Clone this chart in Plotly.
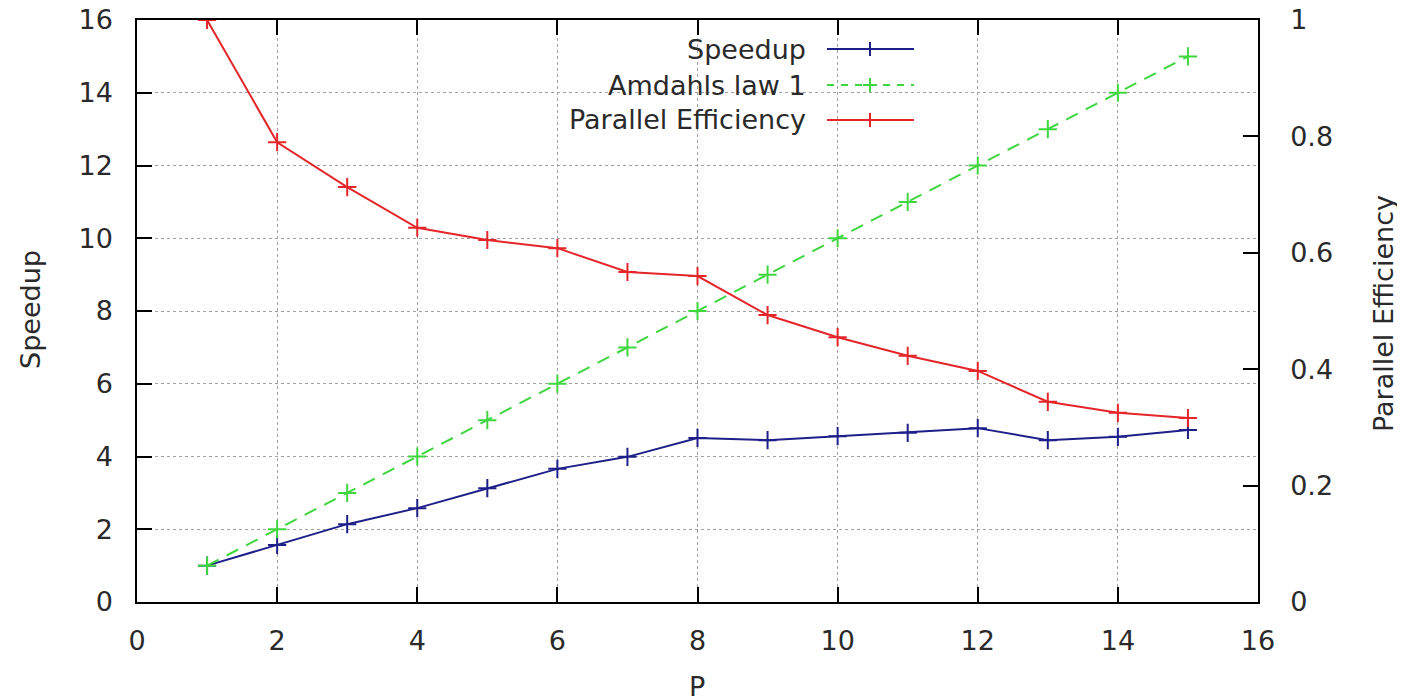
import plotly.graph_objects as go

# ---- data ----
P = [1, 2, 3, 4, 5, 6, 7, 8, 9, 10, 11, 12, 13, 14, 15]
speedup = [1.0, 1.57, 2.14, 2.58, 3.13, 3.66, 3.99, 4.51, 4.45, 4.56, 4.65, 4.78, 4.45, 4.54, 4.73]
amdahl = [1, 2, 3, 4, 5, 6, 7, 8, 9, 10, 11, 12, 13, 14, 15]
efficiency = [1.0, 0.79, 0.713, 0.643, 0.622, 0.608, 0.567, 0.56, 0.493, 0.455, 0.423, 0.397, 0.344, 0.325, 0.316]

series_names = ["Speedup", "Amdahls law 1", "Parallel Efficiency"]
x_ticks = [0, 2, 4, 6, 8, 10, 12, 14, 16]
y_ticks = [0, 2, 4, 6, 8, 10, 12, 14, 16]
y2_ticks = [0, 0.2, 0.4, 0.6, 0.8, 1]

BLUE = "#1f1f8a"
GREEN = "#3fd63f"
RED = "#e4262a"
FONT = "DejaVu Sans"
TXT = "#2a2a2a"
FS = 27

marker_style = dict(symbol="cross-thin", size=13)

fig = go.Figure()
fig.add_trace(go.Scatter(
    x=P, y=speedup, name=series_names[0], mode="lines+markers",
    line=dict(color=BLUE, width=2),
    marker=dict(**marker_style, line=dict(color=BLUE, width=2)),
    showlegend=False))
fig.add_trace(go.Scatter(
    x=P, y=amdahl, name=series_names[1], mode="lines+markers",
    line=dict(color=GREEN, width=2, dash="13px,9px"),
    marker=dict(**marker_style, line=dict(color=GREEN, width=2)),
    showlegend=False))
fig.add_trace(go.Scatter(
    x=P, y=efficiency, name=series_names[2], mode="lines+markers", yaxis="y2",
    line=dict(color=RED, width=2),
    marker=dict(**marker_style, line=dict(color=RED, width=2)),
    showlegend=False))

# ---- custom gnuplot-style key (text right, sample on the right) ----
# page pixel coordinates; plot area spans x 137..1258, y 20..602 on the page
W, H = 1121.0, 582.0
def px_x(px):
    return (px - 137) / W
def px_y(py):
    return (602 - py) / H

shapes = [dict(type="rect", xref="paper", yref="paper",
               x0=px_x(458), x1=px_x(922), y0=px_y(139), y1=px_y(21),
               fillcolor="white", line=dict(width=0), layer="between")]
annotations = []
rows = [49, 85, 120]
colors = [BLUE, GREEN, RED]
dashes = ["solid", "7px,7px", "solid"]
for name, row, col, dsh in zip(series_names, rows, colors, dashes):
    annotations.append(dict(text=name, xref="paper", yref="paper",
                            x=px_x(808), y=px_y(row), xanchor="right", yanchor="middle",
                            showarrow=False, font=dict(family=FONT, size=FS, color=TXT)))
    shapes.append(dict(type="line", xref="paper", yref="paper",
                       x0=px_x(827), x1=px_x(914), y0=px_y(row), y1=px_y(row),
                       line=dict(color=col, width=2, dash=dsh), layer="above"))
    shapes.append(dict(type="line", xref="paper", yref="paper",
                       x0=px_x(870), x1=px_x(870), y0=px_y(row - 7), y1=px_y(row + 7),
                       line=dict(color=col, width=2), layer="above"))
    shapes.append(dict(type="line", xref="paper", yref="paper",
                       x0=px_x(863), x1=px_x(877), y0=px_y(row), y1=px_y(row),
                       line=dict(color=col, width=2), layer="above"))

# axis titles
annotations.append(dict(text="Speedup", xref="paper", yref="paper", x=px_x(30), y=px_y(310),
                        textangle=-90, showarrow=False, xanchor="center", yanchor="middle",
                        font=dict(family=FONT, size=FS, color=TXT)))
annotations.append(dict(text="Parallel Efficiency", xref="paper", yref="paper", x=px_x(1383), y=px_y(314),
                        textangle=-90, showarrow=False, xanchor="center", yanchor="middle",
                        font=dict(family=FONT, size=FS, color=TXT)))
annotations.append(dict(text="P", xref="paper", yref="paper", x=px_x(697), y=px_y(686),
                        showarrow=False, xanchor="center", yanchor="middle",
                        font=dict(family=FONT, size=FS, color=TXT)))

axis_common = dict(ticks="inside", ticklen=15, tickwidth=1.5, tickcolor="black",
                   showline=True, linecolor="black", linewidth=1.5,
                   tickfont=dict(family=FONT, size=FS, color=TXT), zeroline=False,
                   ticklabeloverflow="allow", automargin=False)

# the page has an 8px body margin: figure is offset by 8px, so it is 8px smaller
fig.update_layout(
    width=1397, height=692,
    margin=dict(l=129, r=147, t=12, b=98, autoexpand=False),
    paper_bgcolor="white", plot_bgcolor="white",
    shapes=shapes, annotations=annotations, showlegend=False,
    xaxis=dict(range=[0, 16], tickvals=x_ticks, mirror="ticks",
               showgrid=True, gridcolor="#a0a0a0", griddash="dot", gridwidth=1,
               ticklabelstandoff=14, **axis_common),
    yaxis=dict(range=[0, 16], tickvals=y_ticks, mirror=True,
               showgrid=True, gridcolor="#a0a0a0", griddash="dot", gridwidth=1,
               ticklabelstandoff=17, **axis_common),
    yaxis2=dict(range=[0, 1], tickvals=y2_ticks, overlaying="y", side="right",
                showgrid=False, ticklabelstandoff=25, **axis_common),
)

fig.write_html("out.html")
